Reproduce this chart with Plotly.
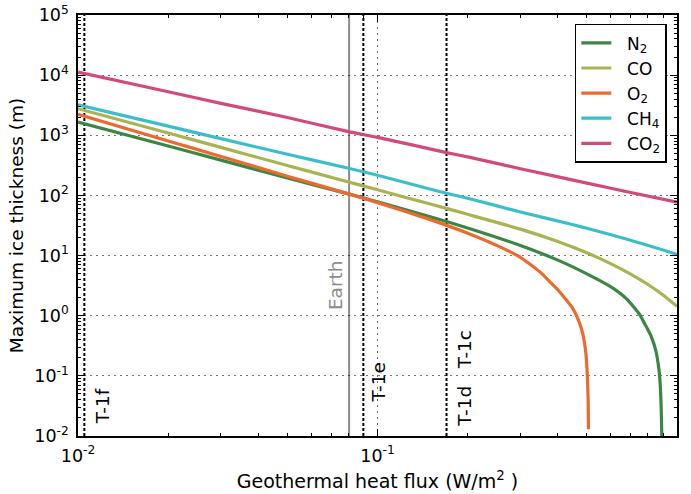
import plotly.graph_objects as go

# ---- data (geothermal flux W/m^2 -> max ice thickness m) ----
flux_n2 = [0.01, 0.02, 0.03, 0.05, 0.08, 0.1, 0.15, 0.2, 0.3, 0.4, 0.5, 0.6, 0.68, 0.75,
           0.78, 0.82, 0.85, 0.87, 0.88, 0.886, 0.889, 0.8905]
thick_n2 = [1660, 662, 386, 195, 106, 78.7, 44.3, 28.8, 14.7, 8.4, 4.97, 3.04, 1.89, 1.05,
            0.735, 0.455, 0.26, 0.13, 0.065, 0.026, 0.012, 0.008]

flux_co = [0.01, 0.02, 0.03, 0.05, 0.08, 0.1, 0.15, 0.2, 0.3, 0.4, 0.5, 0.6, 0.7, 0.8, 0.9, 1.0]
thick_co = [2770, 1090, 630, 315, 167, 124, 72, 48.5, 27.5, 17.1, 11.1, 7.36, 4.93, 3.30, 2.19, 1.43]

flux_o2 = [0.01, 0.02, 0.03, 0.05, 0.08, 0.1, 0.15, 0.2, 0.25, 0.3, 0.35, 0.377, 0.402, 0.428,
           0.45, 0.465, 0.48, 0.49, 0.497, 0.502, 0.505, 0.5064]
thick_o2 = [2230, 805, 445, 209, 106, 75.9, 39.6, 23.6, 14.8, 9.35, 5.25, 3.63, 2.63, 1.80,
            1.29, 0.93, 0.6, 0.38, 0.22, 0.1, 0.04, 0.013]

flux_ch4 = [0.01, 0.02, 0.03, 0.05, 0.08, 0.1, 0.162, 0.2, 0.3, 0.44, 0.5, 0.7, 1.0]
thick_ch4 = [3200, 1420, 880, 485, 283, 216, 115, 90, 53, 33.5, 28.5, 18, 10.5]

flux_co2 = [0.01, 0.02, 0.03, 0.05, 0.08, 0.1, 0.17, 0.2, 0.3, 0.5, 0.7, 1.0]
thick_co2 = [11200, 5300, 3400, 1980, 1150, 925, 515, 437, 278, 160, 112, 77]

series_names = ["N<sub>2</sub>", "CO", "O<sub>2</sub>", "CH<sub>4</sub>", "CO<sub>2</sub>"]
series_colors = ["#3a8744", "#a9b351", "#ec6a2e", "#3bbec9", "#d4497b"]

# reference lines (W/m^2)
ref_flux_dashed = [0.0105, 0.0897, 0.170]
earth_flux = 0.0804

x_tick_vals = [0.01, 0.1, 1]
x_tick_text = ["10<sup>-2</sup>", "10<sup>-1</sup>", "10<sup>0</sup>"]
y_tick_vals = [1e-2, 1e-1, 1, 10, 100, 1e3, 1e4, 1e5]
y_tick_text = ["10<sup>-2</sup>", "10<sup>-1</sup>", "10<sup>0</sup>", "10<sup>1</sup>",
               "10<sup>2</sup>", "10<sup>3</sup>", "10<sup>4</sup>", "10<sup>5</sup>"]

FONT = "DejaVu Sans"
PAD = "\u00a0\u00a0"

fig = go.Figure()
all_x = [flux_n2, flux_co, flux_o2, flux_ch4, flux_co2]
all_y = [thick_n2, thick_co, thick_o2, thick_ch4, thick_co2]
for i, (xs, ys) in enumerate(zip(all_x, all_y)):
    fig.add_trace(go.Scatter(
        x=xs, y=ys, mode="lines", name=PAD + series_names[i],
        line=dict(color=series_colors[i], width=3.2, shape="spline", smoothing=0.5),
    ))

# vertical reference lines
for xv in ref_flux_dashed:
    fig.add_shape(type="line", xref="x", yref="paper", x0=xv, x1=xv, y0=0, y1=1,
                  line=dict(color="black", width=2, dash="3px,2px"), layer="below")
fig.add_shape(type="line", xref="x", yref="paper", x0=earth_flux, x1=earth_flux, y0=0, y1=1,
              line=dict(color="#8c8c8c", width=2), layer="below")


def ann(text, xlog, ylog, color="black"):
    fig.add_annotation(text=text, x=xlog, y=ylog, xref="x", yref="y", showarrow=False,
                       textangle=-90, xanchor="center", yanchor="bottom",
                       font=dict(family=FONT, size=18.5, color=color))


ann("T-1f", -1.92, -1.84)
ann("Earth", -1.142, 0.06, color="#8c8c8c")
ann("T-1e", -0.997, -1.47)
ann("T-1d\u00a0\u00a0\u00a0T-1c", -0.708, -1.87)

minor_x = [m * 10 ** e for e in (-2, -1) for m in range(2, 10)]
minor_y = [m * 10 ** e for e in range(-2, 5) for m in range(2, 10)]

axis_common = dict(
    type="log", showline=True, linecolor="black", linewidth=1.5, mirror="allticks",
    ticks="inside", ticklen=7, tickwidth=1, tickcolor="black", tickmode="array",
    showgrid=True, gridcolor="rgba(0,0,0,0.55)", gridwidth=1, griddash="2px,4px",
    zeroline=False, automargin=False,
    tickfont=dict(family=FONT, size=17.5, color="black"),
)

fig.update_layout(
    width=691, height=494,
    margin=dict(l=78, r=14, t=15, b=58),
    paper_bgcolor="white", plot_bgcolor="white",
    font=dict(family=FONT, size=17, color="black"),
    xaxis=dict(axis_common, range=[-2, 0], tickvals=x_tick_vals, ticktext=x_tick_text,
               minor=dict(tickmode="array", tickvals=minor_x, ticks="inside", ticklen=3.5,
                          tickcolor="black", showgrid=False),
               ticklabelstandoff=3,
               title=dict(text="Geothermal heat flux (W/m<sup>2</sup> )",
                          font=dict(family=FONT, size=19), standoff=10)),
    yaxis=dict(axis_common, range=[-2, 5], tickvals=y_tick_vals, ticktext=y_tick_text,
               minor=dict(tickmode="array", tickvals=minor_y, ticks="inside", ticklen=3.5,
                          tickcolor="black", showgrid=False),
               ticklabelstandoff=4,
               title=dict(text="Maximum ice thickness (m)",
                          font=dict(family=FONT, size=18.5), standoff=6)),
    legend=dict(x=0.983, y=0.979, xanchor="right", yanchor="top",
                bgcolor="white", bordercolor="black", borderwidth=1.5,
                font=dict(family=FONT, size=17, color="black"),
                itemwidth=30),
    showlegend=True,
)

fig.write_html("out.html")
